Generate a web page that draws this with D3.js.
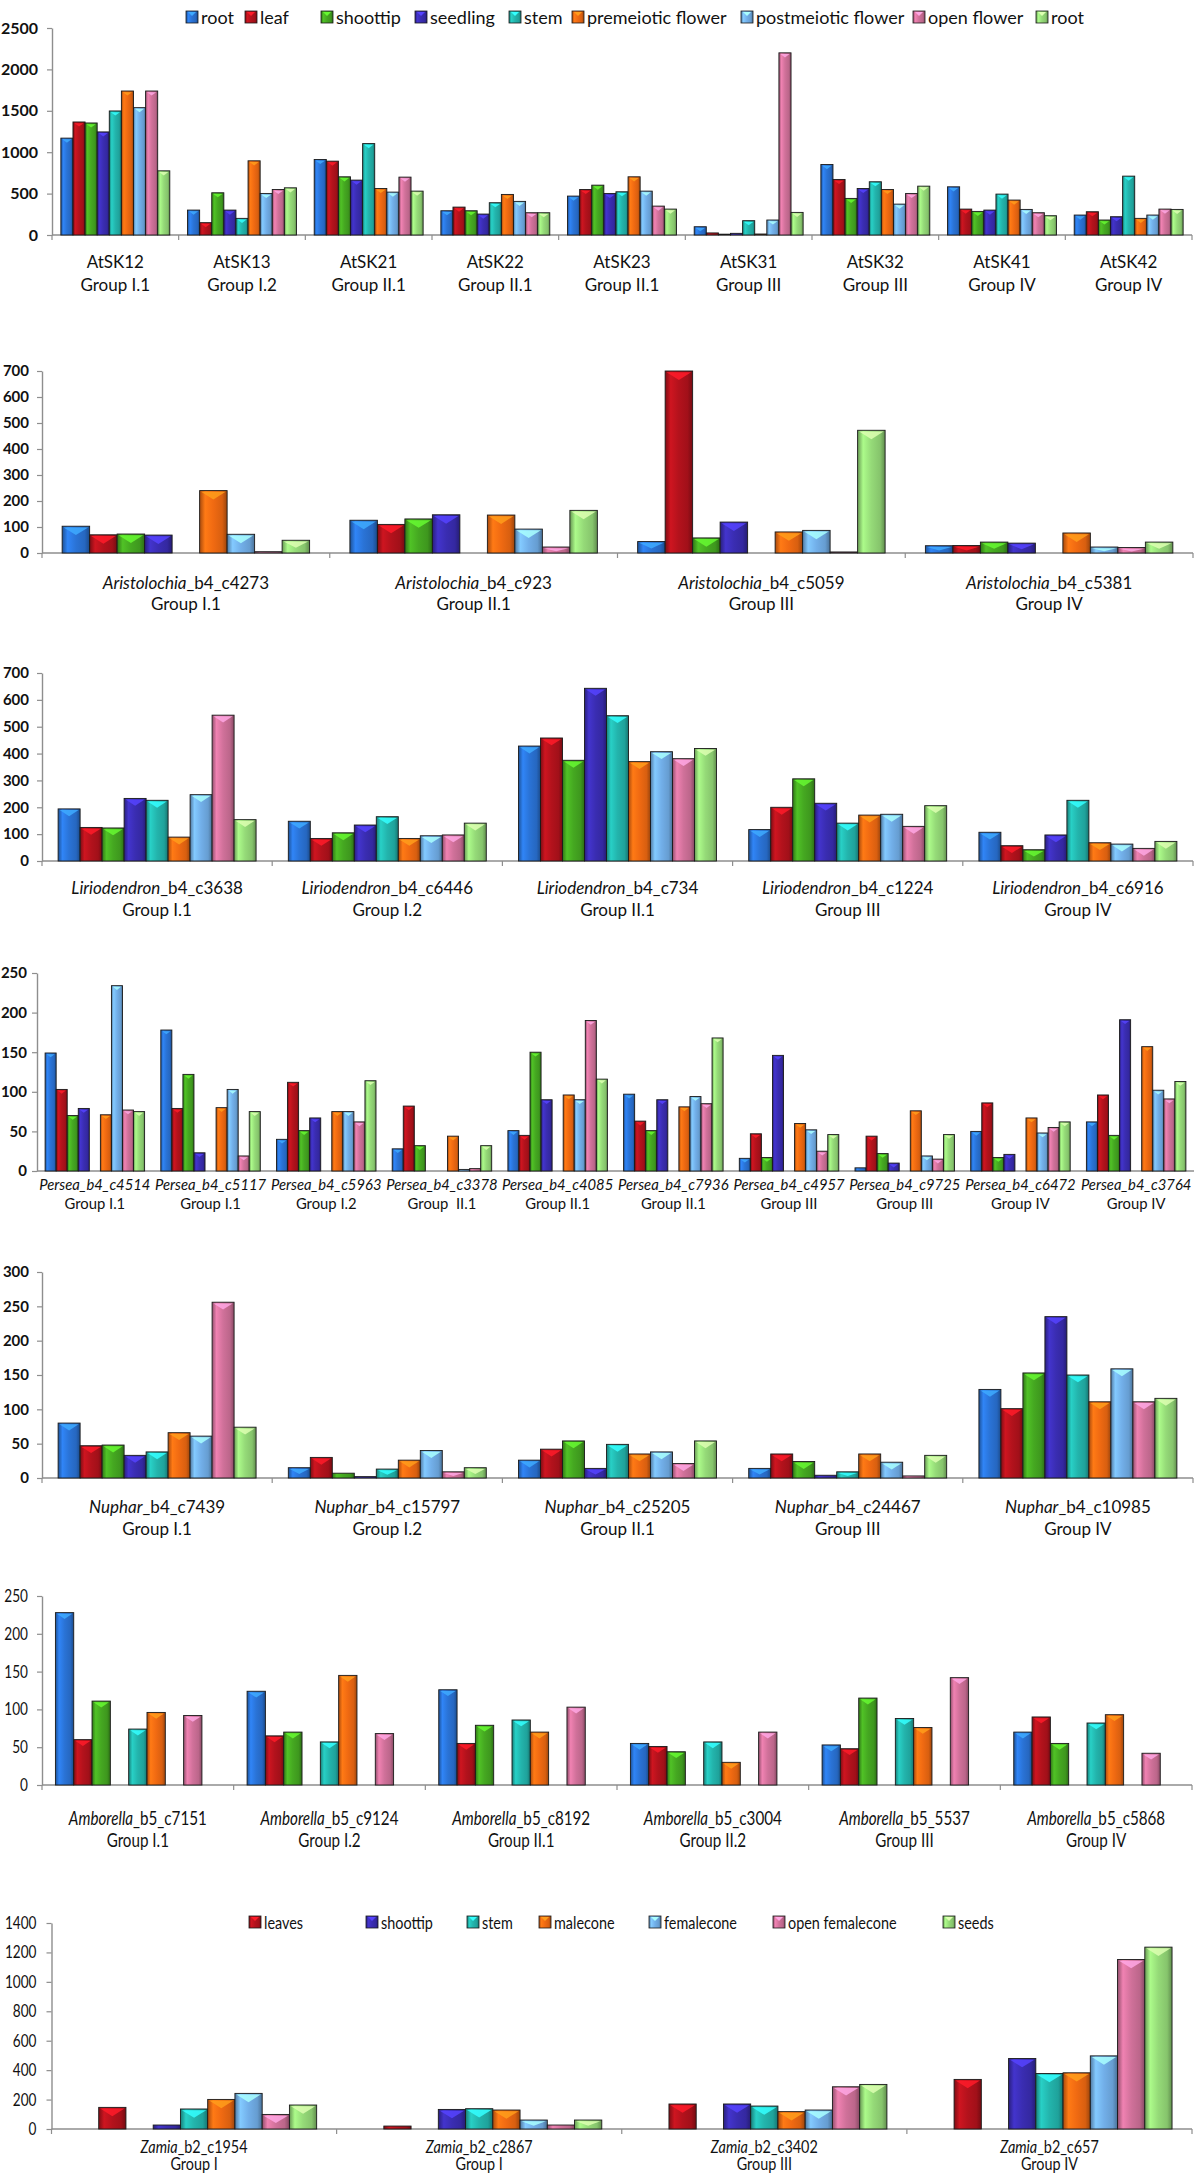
<!DOCTYPE html>
<html><head><meta charset="utf-8">
<script src="https://cdn.jsdelivr.net/npm/d3@7"></script>
<style>
body{margin:0;background:#fff;}
svg{display:block;font-family:Lato,"Open Sans",sans-serif;}
text{white-space:pre;}
</style></head><body>
<svg id="chart" width="1200" height="2175"></svg>
<script>
// ---------------- DATA ----------------
const flowerSeries = ["root","leaf","shoottip","seedling","stem","premeiotic flower","postmeiotic flower","open flower","root"];
const zamiaSeries = ["","leaves","","shoottip","stem","malecone","femalecone","open femalecone","seeds"];

const atskGenes = ["AtSK12","AtSK13","AtSK21","AtSK22","AtSK23","AtSK31","AtSK32","AtSK41","AtSK42"];
const atskGroups = ["Group I.1","Group I.2","Group II.1","Group II.1","Group II.1","Group III","Group III","Group IV","Group IV"];
const atskValues = [
  [1170,1365,1353,1245,1498,1739,1538,1739,775],
  [301,149,510,301,201,896,502,550,570],
  [912,892,703,663,1104,562,518,699,530],
  [293,337,293,253,390,490,406,269,269],
  [470,550,602,502,522,703,530,349,313],
  [100,25,10,20,173,12,181,2200,273],
  [851,671,442,562,643,550,373,502,590],
  [582,313,285,301,494,422,309,269,233],
  [241,281,181,221,711,201,241,313,309]
];
const atskTicks = [0,500,1000,1500,2000,2500];

const aristIds = ["_b4_c4273","_b4_c923","_b4_c5059","_b4_c5381"];
const aristGroups = ["Group I.1","Group II.1","Group III","Group IV"];
const aristValues = [
  [103,70,73,69,null,240,72,5,49],
  [126,110,131,147,null,146,92,23,164],
  [44,700,58,119,null,81,87,4,472],
  [28,29,42,38,null,77,23,21,42]
];
const aristTicks = [0,100,200,300,400,500,600,700];

const lirioIds = ["_b4_c3638","_b4_c6446","_b4_c734","_b4_c1224","_b4_c6916"];
const lirioGroups = ["Group I.1","Group I.2","Group II.1","Group III","Group IV"];
const lirioValues = [
  [194,125,123,233,226,89,247,543,154],
  [148,84,105,134,165,84,94,97,141],
  [428,458,375,643,541,370,407,381,419],
  [117,200,306,215,141,171,174,129,206],
  [107,57,42,97,226,68,63,47,73]
];
const lirioTicks = [0,100,200,300,400,500,600,700];

const perseaIds = ["Persea_b4_c4514","Persea_b4_c5117","Persea_b4_c5963","Persea_b4_c3378","Persea_b4_c4085","Persea_b4_c7936","Persea_b4_c4957","Persea_b4_c9725","Persea_b4_c6472","Persea_b4_c3764"];
const perseaGroups = ["Group I.1","Group I.1","Group I.2","Group  II.1","Group II.1","Group II.1","Group III","Group III","Group IV","Group IV"];
const perseaValues = [
  [149,103,70,79,null,71,234,77,75],
  [178,79,122,23,null,80,103,19,75],
  [40,112,51,67,null,75,75,62,114],
  [28,82,32,null,null,44,2,3,32],
  [51,45,150,90,null,96,90,190,116],
  [97,63,51,90,null,81,94,85,168],
  [16,47,17,146,null,60,52,25,46],
  [4,44,22,10,null,76,19,15,46],
  [50,86,17,21,null,67,48,55,62],
  [62,96,45,191,null,157,102,91,113]
];
const perseaTicks = [0,50,100,150,200,250];

const nupharIds = ["_b4_c7439","_b4_c15797","_b4_c25205","_b4_c24467","_b4_c10985"];
const nupharGroups = ["Group I.1","Group I.2","Group II.1","Group III","Group IV"];
const nupharValues = [
  [80,47,48,33,38,66,61,256,74],
  [15,30,7,2,13,26,40,9,15],
  [26,42,54,14,49,35,38,21,54],
  [14,35,24,4,9,35,23,3,33],
  [129,101,153,235,150,111,159,111,116]
];
const nupharTicks = [0,50,100,150,200,250,300];

const amboIds = ["_b5_c7151","_b5_c9124","_b5_c8192","_b5_c3004","_b5_5537","_b5_c5868"];
const amboGroups = ["Group I.1","Group I.2","Group II.1","Group II.2","Group III","Group IV"];
const amboValues = [
  [228,60,111,null,74,96,null,92,null],
  [124,65,70,null,57,145,null,68,null],
  [126,55,79,null,86,70,null,103,null],
  [55,51,44,null,57,30,null,70,null],
  [53,48,115,null,88,76,null,142,null],
  [70,90,55,null,82,93,null,42,null]
];
const amboTicks = [0,50,100,150,200,250];

const zamiaIds = ["_b2_c1954","_b2_c2867","_b2_c3402","_b2_c657"];
const zamiaGroups = ["Group I","Group I","Group III","Group IV"];
const zamiaValues = [
  [null,147,null,27,136,201,242,99,163],
  [null,20,null,133,138,129,61,27,61],
  [null,170,null,170,156,118,129,287,303],
  [null,337,null,479,377,382,497,1152,1236]
];
const zamiaTicks = [0,200,400,600,800,1000,1200,1400];

// ---------------- STYLE ----------------
const seriesColors = ["#2a73d6","#b3121c","#45a821","#3a2db2","#23b4ac","#f06a12","#72afe9","#d0719a","#95da78"];

const svg = d3.select("#chart");
const defs = svg.append("defs");
seriesColors.forEach((c,i)=>{
  const g = defs.append("linearGradient").attr("id","g"+i)
    .attr("x1","0").attr("x2","1").attr("y1","0").attr("y2","0");
  const b = d3.color(c);
  [[0,b.darker(1.0)],[0.2,b.brighter(0.4)],[0.5,b],[0.82,b.darker(0.3)],[1,b.darker(1.2)]]
    .forEach(([o,col])=>g.append("stop").attr("offset",o).attr("stop-color",col.formatHex()));
});

function drawPanel(p){
  const g = svg.append("g");
  const n = p.values.length;
  const x = d3.scaleBand().domain(d3.range(n)).range([p.x0,p.x1]);
  const bw = x.bandwidth();
  const xi = d3.scaleBand().domain(d3.range(9)).range([bw*0.07,bw*0.93]);
  const y = d3.scaleLinear().domain([0,d3.max(p.ticks)]).range([p.yBase,p.yTop]);

  // y axis
  const ax = d3.axisLeft(y).tickValues(p.ticks).tickSize(5).tickSizeOuter(0)
    .tickPadding(p.pad).tickFormat(d3.format("d"));
  const ag = g.append("g").attr("transform",`translate(${p.x0},0)`).call(ax);
  ag.select(".domain").attr("stroke","#8e8e8e").attr("stroke-width",1.4);
  ag.selectAll(".tick line").attr("stroke","#8e8e8e").attr("stroke-width",1.2);
  ag.selectAll(".tick text").attr("fill","#111").attr("font-family","Lato,sans-serif")
    .attr("font-size",p.tickFont).attr("font-weight","bold");
  if(p.condense){
    ag.selectAll(".tick text").each(function(){
      const w=this.getComputedTextLength();
      d3.select(this).attr("textLength",w*p.condense).attr("lengthAdjust","spacingAndGlyphs")
        .attr("font-weight","normal");
    });
  }

  // x axis
  g.append("line").attr("x1",p.x0).attr("x2",p.x1).attr("y1",p.yBase).attr("y2",p.yBase)
    .attr("stroke","#8e8e8e").attr("stroke-width",1.4);
  if(p.xticks){
    g.selectAll(".xt").data(d3.range(n+1)).join("line")
      .attr("x1",d=>p.x0+d*bw).attr("x2",d=>p.x0+d*bw)
      .attr("y1",p.yBase).attr("y2",p.yBase+5)
      .attr("stroke","#8e8e8e").attr("stroke-width",1.2);
  }

  // bars
  const bars = [];
  p.values.forEach((row,i)=>row.forEach((v,j)=>{ if(v!=null) bars.push({i,j,v}); }));
  const w = xi.bandwidth();
  const bg = g.append("g");
  bg.selectAll("rect").data(bars).join("rect")
    .attr("x",d=>x(d.i)+xi(d.j)).attr("y",d=>y(d.v))
    .attr("width",w).attr("height",d=>Math.max(0.8,p.yBase-y(d.v)))
    .attr("fill",d=>`url(#g${d.j})`).attr("stroke","#1a1a1a").attr("stroke-width",0.9);
  bg.selectAll("path").data(bars.filter(d=>p.yBase-y(d.v)>5)).join("path")
    .attr("d",d=>{
      const x1=x(d.i)+xi(d.j)+1.5, x2=x1+w-3, yt=y(d.v)+1.2;
      const h=Math.min(w*0.28,(p.yBase-y(d.v))*0.5);
      return `M${x1},${yt}L${x2},${yt}L${(x1+x2)/2},${yt+h}Z`;
    })
    .attr("fill",d=>d3.color(seriesColors[d.j]).brighter(1.1).formatHex()).attr("opacity",0.85);

  // category labels
  p.values.forEach((row,i)=>{
    const cx = x(i)+bw/2;
    const t1 = g.append("text").attr("transform",`translate(${cx},${p.ly1})`+(p.condense?` scale(${p.condense},1)`:""))
      .attr("text-anchor","middle").attr("dominant-baseline","central")
      .attr("font-size",p.labFont).attr("fill","#111");
    if(p.italicAll){
      t1.append("tspan").attr("font-style","italic").text(p.names[i]);
    } else if(p.genus){
      t1.append("tspan").attr("font-style","italic").text(p.genus);
      t1.append("tspan").text(p.names[i]);
    } else {
      t1.text(p.names[i]);
    }
    g.append("text").attr("transform",`translate(${cx},${p.ly2})`+(p.condense?` scale(${p.condense},1)`:""))
      .attr("text-anchor","middle").attr("dominant-baseline","central")
      .attr("font-size",p.labFont).attr("fill","#111").text(p.groups[i]);
  });
  return g;
}

function legend(names, xs, yc, font, condense){
  const lg = svg.append("g");
  names.forEach((nm,j)=>{
    if(!nm) return;
    const xx = xs[j];
    lg.append("rect").attr("x",xx).attr("y",yc-6).attr("width",12).attr("height",12)
      .attr("fill",`url(#g${j})`).attr("stroke","#1a1a1a").attr("stroke-width",0.8);
    lg.append("path").attr("d",`M${xx+2},${yc-5}L${xx+10},${yc-5}L${xx+6},${yc-1}Z`)
      .attr("fill",d3.color(seriesColors[j]).brighter(1.1).formatHex());
    const t = lg.append("text").attr("x",xx+15).attr("y",yc).attr("dominant-baseline","central")
      .attr("font-size",font).attr("fill","#111").text(nm);
    if(condense){
      const w=t.node().getComputedTextLength();
      t.attr("textLength",w*condense).attr("lengthAdjust","spacingAndGlyphs");
    }
  });
}

// ---------------- PANELS (layout) ----------------
drawPanel({values:atskValues,ticks:atskTicks,x0:52,x1:1192,yTop:28,yBase:235,pad:9,tickFont:16,
  names:atskGenes,groups:atskGroups,ly1:261,ly2:284,labFont:17,xticks:true});
legend(flowerSeries,[186,245,321,415,509,572,741,913,1036],17,18);

drawPanel({values:aristValues,ticks:aristTicks,x0:42,x1:1193,yTop:371,yBase:553,pad:8,tickFont:15,
  genus:"Aristolochia",names:aristIds,groups:aristGroups,ly1:582,ly2:603,labFont:17,xticks:true});

drawPanel({values:lirioValues,ticks:lirioTicks,x0:42,x1:1193,yTop:673,yBase:861,pad:8,tickFont:15,
  genus:"Liriodendron",names:lirioIds,groups:lirioGroups,ly1:887,ly2:909,labFont:17,xticks:true});

drawPanel({values:perseaValues,ticks:perseaTicks,x0:37,x1:1194,yTop:973,yBase:1171,pad:5,tickFont:15,
  italicAll:true,names:perseaIds,groups:perseaGroups,ly1:1184,ly2:1203,labFont:14.8,xticks:false});

drawPanel({values:nupharValues,ticks:nupharTicks,x0:42,x1:1193,yTop:1272,yBase:1478,pad:8,tickFont:15,
  genus:"Nuphar",names:nupharIds,groups:nupharGroups,ly1:1506,ly2:1528,labFont:17,xticks:true});

drawPanel({values:amboValues,ticks:amboTicks,x0:42,x1:1192,yTop:1596,yBase:1785,pad:9,tickFont:17,
  genus:"Amborella",names:amboIds,groups:amboGroups,ly1:1817,ly2:1840,labFont:19,xticks:true,condense:0.8});

drawPanel({values:zamiaValues,ticks:zamiaTicks,x0:51.5,x1:1192,yTop:1923,yBase:2129,pad:10,tickFont:17,
  genus:"Zamia",names:zamiaIds,groups:zamiaGroups,ly1:2145,ly2:2163,labFont:18,xticks:true,condense:0.8});
legend(zamiaSeries,[0,249,0,366,467,539,649,773,943],1922,18,0.8);
</script>
</body></html>
